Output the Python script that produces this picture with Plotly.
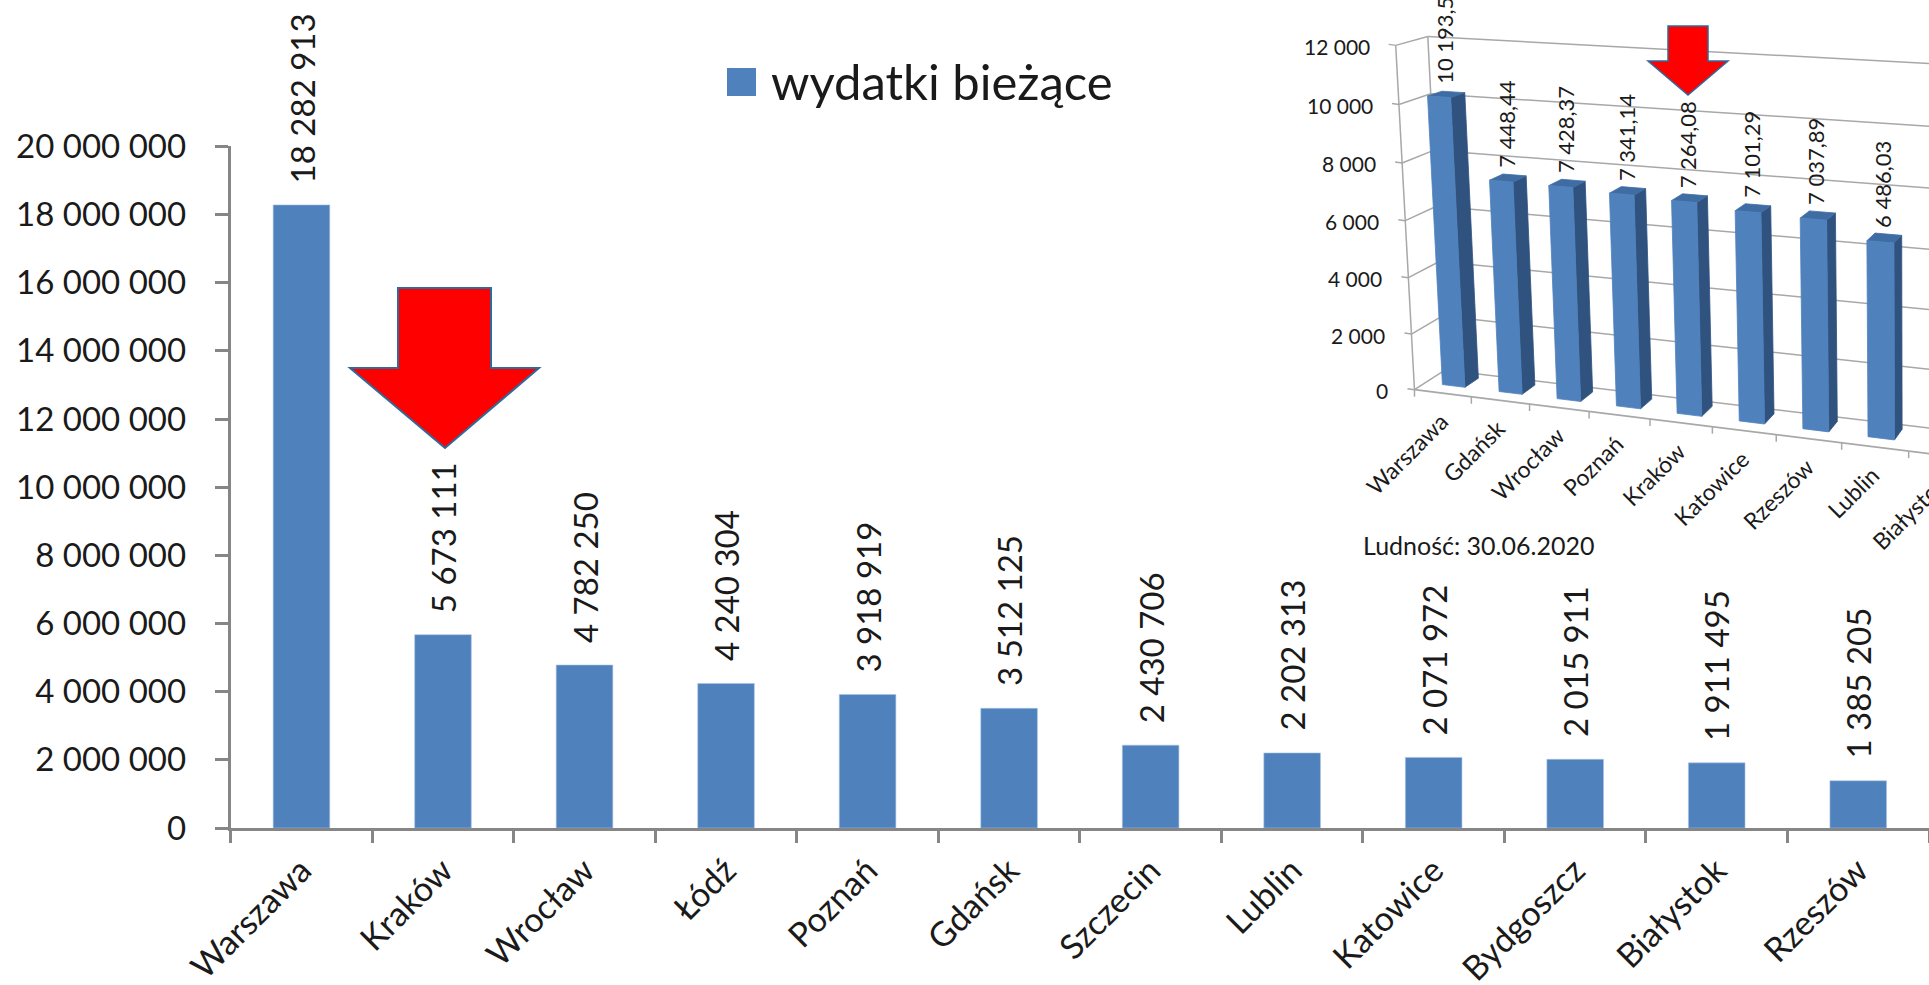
import numpy as np
import plotly.graph_objects as go

# ---------- data ----------
main_categories = ["Warszawa", "Kraków", "Wrocław", "Łódź", "Poznań", "Gdańsk", "Szczecin",
                   "Lublin", "Katowice", "Bydgoszcz", "Białystok", "Rzeszów"]
main_values = [18282913, 5673111, 4782250, 4240304, 3918919, 3512125, 2430706,
               2202313, 2071972, 2015911, 1911495, 1385205]
main_yticks = list(range(0, 20000001, 2000000))
legend_name = "wydatki bieżące"

inset_categories = ["Warszawa", "Gdańsk", "Wrocław", "Poznań", "Kraków", "Katowice",
                    "Rzeszów", "Lublin", "Białystok"]
inset_values = [10193.50, 7448.44, 7428.37, 7341.14, 7264.08, 7101.29, 7037.89, 6486.03]
inset_yticks = [0, 2000, 4000, 6000, 8000, 10000, 12000]
inset_note = "Ludność: 30.06.2020"

# ---------- styles ----------
W, H = 1929, 985
FONT = "Lato"
TXT = "#1a1a1a"
BLUE = "#4f81bd"
BLUE_SIDE = "#30527f"
BLUE_TOP = "#3f6da3"
AXIS = "#868686"
GRID = "#a8a8a8"
RED = "#ff0000"
EDGE = "#2f6a9a"


def fmt_int(v):
    return f"{v:,}".replace(",", " ")


def fmt_dec(v):
    return f"{v:,.2f}".replace(",", " ").replace(".", ",")


# ---------- oblique 3D camera for the inset, fitted to the reference's axes ----------
def zp(zx, zy):
    return 1280 + zx / 2.416, zy / 2.75


ctrl = []
for u, (a, b) in enumerate([(330, 1068), (465, 1090), (603, 1110), (747, 1133), (895, 1153),
                            (1045, 1175), (1197, 1197), (1355, 1220), (1520, 1243)]):
    ctrl.append(((u, 0, 0), zp(a, b)))
for v, (a, b) in zip([2000, 4000, 6000, 8000, 10000, 12000],
                     [(320, 915), (311, 762), (302, 606), (293, 447), (284, 288), (275, 127)]):
    ctrl.append(((0, v, 0), zp(a, b)))
ctrl += [((0, 0, 1), zp(390, 1025)), ((0, 12000, 1), zp(365, 100)),
         ((8, 0, 1), zp(1558, 1168)), ((8, 12000, 1), zp(1558, 174))]

rows = []
for (u, v, d), (x, y) in ctrl:
    X = [u, v / 1000.0, d, 1]
    rows.append(X + [0, 0, 0, 0] + [-x * c for c in X])
    rows.append([0, 0, 0, 0] + X + [-y * c for c in X])
P = np.linalg.svd(np.array(rows, float))[2][-1].reshape(3, 4)


def proj(u, v, d):
    p = P @ np.array([u, v / 1000.0, d, 1.0])
    return float(p[0] / p[2]), float(p[1] / p[2])


def poly(points, fill, line=None):
    xy = [proj(*p) for p in points]
    xy.append(xy[0])
    return go.Scatter(x=[a for a, _ in xy], y=[b for _, b in xy], mode="lines", fill="toself",
                      fillcolor=fill, line=dict(color=line or fill, width=0.8),
                      xaxis="x2", yaxis="y2", hoverinfo="skip", showlegend=False)


def seg(p, q, color=GRID, width=1.5):
    a, b = proj(*p), proj(*q)
    return go.Scatter(x=[a[0], b[0]], y=[a[1], b[1]], mode="lines",
                      line=dict(color=color, width=width), xaxis="x2", yaxis="y2",
                      hoverinfo="skip", showlegend=False)


fig = go.Figure()

# ---------- main bars ----------
fig.add_trace(go.Bar(x=main_categories, y=main_values, name=legend_name, width=0.4,
                     marker=dict(color=BLUE, line=dict(color="#a9c4e4", width=0.6)),
                     showlegend=False))

# ---------- inset chart ----------
U_MAX = 9.5
for v in inset_yticks:
    fig.add_trace(seg((0, v, 1), (U_MAX, v, 1)))
    fig.add_trace(seg((0, v, 0), (0, v, 1)))
    a = proj(0, v, 0)
    fig.add_trace(go.Scatter(x=[a[0] - 7, a[0]], y=[a[1] - 1, a[1]], mode="lines",
                             line=dict(color=GRID, width=1.5), xaxis="x2", yaxis="y2",
                             hoverinfo="skip", showlegend=False))
fig.add_trace(seg((0, 0, 0), (0, 12000, 0)))
fig.add_trace(seg((0, 0, 1), (0, 12000, 1)))
fig.add_trace(seg((0, 0, 0), (U_MAX, 0, 0), width=1.8))
for u in range(0, 10):
    a = proj(u, 0, 0)
    fig.add_trace(go.Scatter(x=[a[0], a[0]], y=[a[1], a[1] + 7], mode="lines",
                             line=dict(color=GRID, width=1.5), xaxis="x2", yaxis="y2",
                             hoverinfo="skip", showlegend=False))

BW, D0, D1 = 0.40, 0.36, 0.82
for i, val in enumerate(inset_values):
    u0, u1 = i + 0.5 - BW / 2, i + 0.5 + BW / 2
    fig.add_trace(poly([(u1, 0, D0), (u1, 0, D1), (u1, val, D1), (u1, val, D0)], BLUE_SIDE))
    fig.add_trace(poly([(u0, val, D0), (u1, val, D0), (u1, val, D1), (u0, val, D1)], BLUE_TOP))
    fig.add_trace(poly([(u0, 0, D0), (u1, 0, D0), (u1, val, D0), (u0, val, D0)], BLUE))

annotations = []


def note(x, y, text, size, ref="x2", yref="y2", angle=0, xa="center", ya="middle", xs=0, ys=0):
    annotations.append(dict(x=x, y=y, xref=ref, yref=yref, text=text, showarrow=False,
                            textangle=angle, xanchor=xa, yanchor=ya, xshift=xs, yshift=ys,
                            font=dict(family=FONT, size=size, color=TXT), borderpad=0, borderwidth=0))


for v in inset_yticks:
    a = proj(0, v, 0)
    note(a[0] - 26, a[1] + 1, fmt_int(v), 21, xa="right")
for i, val in enumerate(inset_values):
    a = proj(i + 0.5, val, 0.6)
    note(a[0] - 2, a[1], fmt_dec(val), 22, angle=-90, ya="bottom", ys=10)
for i, name in enumerate(inset_categories):
    a = proj(i + 0.5, 0, 0)
    ax = a[0] + 10
    # an anchor past the page edge would hide the label, so anchor at the edge and shift
    over = max(0.0, ax - (W - 1))
    note(ax - over, a[1] + 14, name, 23, angle=-45, xa="right", ya="top", xs=over)
note(1363, 545, inset_note, 25, xa="left")

# ---------- main labels ----------
for name, val in zip(main_categories, main_values):
    note(name, val, fmt_int(val), 33, ref="x", yref="y", angle=-90, ya="bottom", ys=22)

# legend entry
note(771, 81, legend_name, 49, xa="left")


def arrow(x0, x1, xl, xr, xt, y0, ys, yt, lw):
    return dict(type="path", xref="x2", yref="y2", layer="above",
                path=f"M{x0},{y0} L{x1},{y0} L{x1},{ys} L{xr},{ys} L{xt},{yt} L{xl},{ys} L{x0},{ys} Z",
                fillcolor=RED, line=dict(color=EDGE, width=lw))


shapes = [
    arrow(398, 491, 350, 539, 445, 288, 368, 448, 2),
    arrow(1668, 1708, 1648, 1728, 1688, 26, 61, 95, 1.5),
    dict(type="rect", xref="x2", yref="y2", x0=727, x1=756, y0=68, y1=96,
         fillcolor=BLUE, line=dict(width=0)),
]

fig.update_layout(
    width=W, height=H, margin=dict(l=0, r=0, t=0, b=0), paper_bgcolor="white",
    plot_bgcolor="rgba(0,0,0,0)",
    showlegend=False, separators=", ", font=dict(family=FONT, color=TXT),
    annotations=annotations, shapes=shapes, bargap=0.6,
    xaxis=dict(domain=[230.7 / W, 1], range=[-0.5, 11.5], type="category", tickson="boundaries",
               categoryorder="array", categoryarray=main_categories,
               tickangle=-45, tickfont=dict(family=FONT, size=34, color=TXT),
               showline=True, linecolor=AXIS, linewidth=3, ticks="outside", ticklen=12,
               tickwidth=2.5, tickcolor=AXIS, showgrid=False, zeroline=False, automargin=False,
               ticklabelstandoff=6),
    yaxis=dict(domain=[(H - 828) / H, (H - 146.4) / H], range=[0, 20000000], tickvals=main_yticks,
               tickformat=",d", tickfont=dict(family=FONT, size=33, color=TXT),
               showline=True, linecolor=AXIS, linewidth=3, ticks="outside", ticklen=13,
               tickwidth=2.5, tickcolor=AXIS, showgrid=False, zeroline=False, automargin=False,
               ticklabelstandoff=22),
    xaxis2=dict(domain=[0, 1], range=[0, W], visible=False, anchor="y2", fixedrange=True),
    yaxis2=dict(domain=[0, 1], range=[H, 0], visible=False, anchor="x2", fixedrange=True),
)

fig.write_html("out.html", config=dict(displayModeBar=False),
               post_script="document.body.style.margin='0';document.body.style.overflow='hidden';")
